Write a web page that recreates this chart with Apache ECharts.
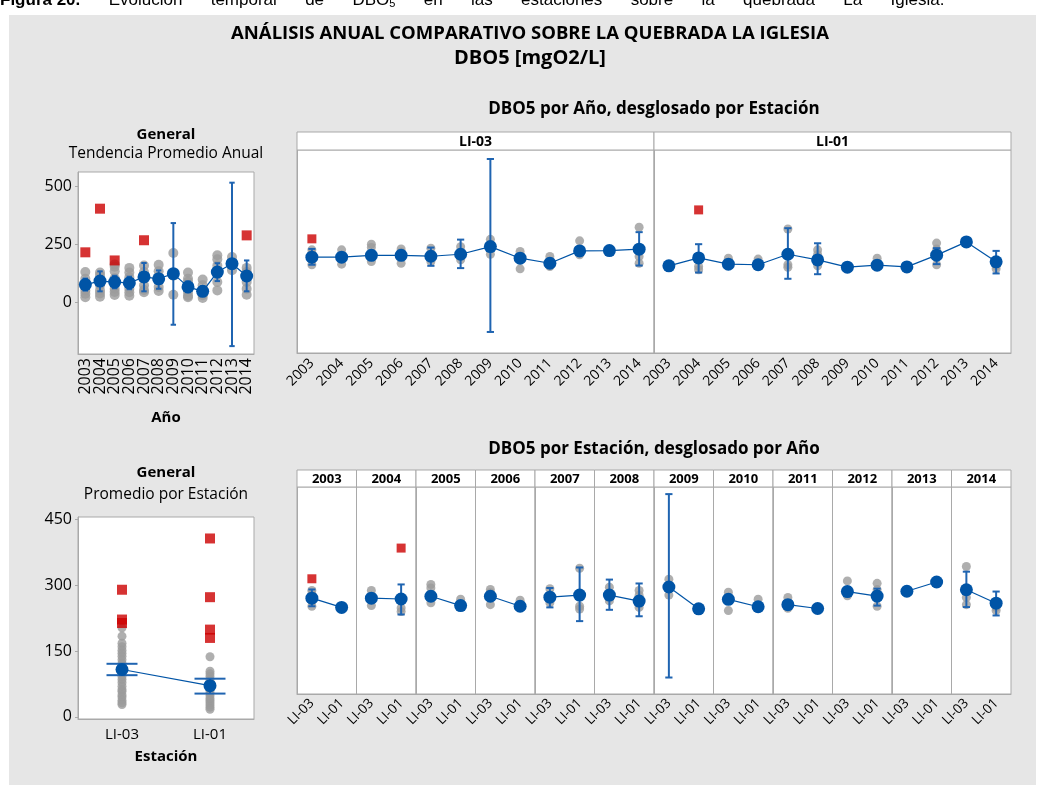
<!DOCTYPE html>
<html>
<head>
<meta charset="utf-8">
<script src="https://cdn.jsdelivr.net/npm/echarts@6/dist/echarts.min.js"></script>
<style>
html, body { margin: 0; padding: 0; background: #fff; }
#container { width: 1044px; height: 785px; }
</style>
</head>
<body>
<div id="container"></div>
<script>
var dom = document.getElementById("container");
var myChart = echarts.init(dom);

var years = ['2003', '2004', '2005', '2006', '2007', '2008', '2009', '2010', '2011', '2012', '2013', '2014'];
var stations = ['LI-03', 'LI-01'];

// General - Tendencia Promedio Anual (por año)
var yearTicks = [0, 250, 500];
var yearMean = [78, 93, 89, 85, 111, 103, 125, 68, 49, 132, 168, 115];
var yearCI = [[52, 104], [49, 135], [62, 116], [58, 112], [49, 171], [60, 139], [-95, 343], [45, 92], [30, 70], [93, 170], [-187, 517], [49, 182]];
var yearPoints = [
    [132, 103, 53, 39, 24],
    [130, 118, 75, 53, 40, 26],
    [165, 155, 135, 105, 60, 46, 33],
    [150, 130, 110, 60, 45, 30],
    [160, 132, 75, 55, 45],
    [163, 135, 68, 50],
    [214, 116, 34],
    [130, 103, 90, 75, 46, 30, 24],
    [100, 75, 55, 32, 20],
    [204, 187, 160, 132, 89, 53],
    [197, 140],
    [150, 132, 89, 60, 34]
];
var yearOutliers = [[0, 217], [1, 405], [2, 182], [4, 269], [11, 290]];

// por Estación y Año
var meanLI03 = [97, 97, 109, 109, 103, 116, 166, 90, 57, 138, 140, 149];
var ciLI03 = [[47, 151], null, null, null, [40, 160], [25, 212], [-394, 741], [65, 115], null, [115, 165], null, [42, 261]];
var pointsLI03 = [[145, 120, 80, 47], [145, 51], [182, 160, 68], [151, 130, 57], [155, 68], [165, 80], [214, 116], [134, 20], [101, 35], [204, 112], [], [293, 101, 57]];
var outliersLI03 = [[0, 217]];

var meanLI01 = [40, 92, 51, 47, 116, 79, 31, 44, 33, 110, 197, 66];
var ciLI01 = [null, [-4, 182], null, null, [-45, 287], [-15, 188], null, null, null, [51, 156], null, [-10, 138]];
var pointsLI01 = [[], [36, 14], [90], [84], [282, 47, 30], [145, 115, 40], [], [90], [], [189, 150, 47], [], [40, 20]];
var outliersLI01 = [[1, 407]];

// General - Promedio por Estación
var stationTicks = [0, 150, 300, 450];
var stationMean = [108, 71];
var stationCI = [[95, 121], [53, 87]];
var stationPoints = [
    [203, 184, 168, 160, 152, 145, 138, 130, 122, 115, 100, 92, 85, 78, 70, 62, 58, 50, 45, 38, 32, 28],
    [137, 104, 98, 92, 85, 78, 70, 62, 55, 48, 42, 37, 32, 27, 22, 17]
];
var stationOutliers = [[0, 290], [0, 222], [0, 214], [1, 407], [1, 273], [1, 199], [1, 180]];

var FONT = 'Open Sans';
var BLUE = '#0054a6';
var BAR = '#1f64b1';
var GRAY = '#9b9b9b';
var RED = '#cc0000';
var FRAME = '#a9a9a9';

var grids = [], xAxes = [], yAxes = [], series = [], graphics = [];

function pairs(lists) {
    var out = [];
    lists.forEach(function (vals, i) {
        vals.forEach(function (v) { out.push([i, v]); });
    });
    return out;
}

function ciRows(ci) {
    var out = [];
    ci.forEach(function (c, i) {
        if (c) out.push([i, c[0], c[1]]);
    });
    return out;
}

function panel(box, cats, range, opts) {
    var gi = grids.length;
    grids.push({
        left: box.x, top: box.y, width: box.w, height: box.h,
        show: true, backgroundColor: '#fff', borderColor: FRAME, borderWidth: 1
    });
    xAxes.push({
        gridIndex: gi, type: 'category', data: cats, boundaryGap: true,
        axisLine: {onZero: false, lineStyle: {color: FRAME}},
        axisTick: {alignWithLabel: true, length: 4, lineStyle: {color: FRAME}},
        axisLabel: Object.assign({interval: 0, color: '#000', fontFamily: FONT}, opts.xLabel),
        splitLine: {show: false},
        name: opts.xName || '', nameLocation: 'middle', nameGap: opts.xNameGap || 0,
        nameTextStyle: {fontFamily: FONT, fontSize: 15, fontWeight: 'bold', color: '#000'}
    });
    yAxes.push({
        gridIndex: gi, type: 'value', min: range[0], max: range[1],
        axisLine: {show: true, onZero: false, lineStyle: {color: FRAME}},
        axisTick: opts.yTicks ? {show: true, customValues: opts.yTicks, length: 3, lineStyle: {color: FRAME}} : {show: false},
        axisLabel: opts.yTicks ? {show: true, customValues: opts.yTicks, fontSize: 16, color: '#000', margin: 6, fontFamily: FONT} : {show: false},
        splitLine: {show: false}
    });
    return gi;
}

function errorSeries(gi, rows, capHalf) {
    return {
        type: 'custom', xAxisIndex: gi, yAxisIndex: gi, z: 3, silent: true,
        data: rows,
        encode: {x: 0, y: [1, 2]},
        renderItem: function (params, api) {
            var x = api.value(0);
            var lo = api.coord([x, api.value(1)]);
            var hi = api.coord([x, api.value(2)]);
            var st = {stroke: BAR, lineWidth: 2};
            return {
                type: 'group',
                children: [
                    {type: 'line', shape: {x1: lo[0], y1: lo[1], x2: hi[0], y2: hi[1]}, style: st},
                    {type: 'line', shape: {x1: lo[0] - capHalf, y1: lo[1], x2: lo[0] + capHalf, y2: lo[1]}, style: st},
                    {type: 'line', shape: {x1: hi[0] - capHalf, y1: hi[1], x2: hi[0] + capHalf, y2: hi[1]}, style: st}
                ]
            };
        }
    };
}

function marks(gi, pts, means, ci, outl, sz) {
    series.push({
        type: 'scatter', xAxisIndex: gi, yAxisIndex: gi, data: pts,
        symbolSize: sz.dot, itemStyle: {color: GRAY}, z: 2, silent: true
    });
    series.push(errorSeries(gi, ci, sz.cap));
    series.push({
        type: 'line', xAxisIndex: gi, yAxisIndex: gi, data: means,
        symbol: 'circle', symbolSize: sz.mean, showSymbol: true, showAllSymbol: true,
        itemStyle: {color: BLUE}, lineStyle: {color: BLUE, width: 1.2}, z: 4, silent: true
    });
    series.push({
        type: 'scatter', xAxisIndex: gi, yAxisIndex: gi, data: outl,
        symbol: 'rect', symbolSize: sz.out, itemStyle: {color: RED}, z: 5, silent: true
    });
}

function header(x, y, w, h, label, size) {
    graphics.push({
        type: 'rect', shape: {x: x, y: y, width: w, height: h},
        style: {fill: '#fff', stroke: FRAME, lineWidth: 1}, z: 10
    });
    graphics.push({
        type: 'text', x: x + w / 2, y: y + h / 2 + 1, z: 11,
        style: {text: label, fontFamily: FONT, fontSize: size, fontWeight: 'bold', fill: '#000', align: 'center', verticalAlign: 'middle'}
    });
}

function label(x, y, text, size, bold) {
    graphics.push({
        type: 'text', x: x, y: y, z: 11,
        style: {text: text, fontFamily: FONT, fontSize: size, fontWeight: bold ? 'bold' : 'normal', fill: '#000', align: 'center', verticalAlign: 'middle'}
    });
}

// panel superior izquierdo: General por año
var g = panel({x: 78, y: 172, w: 176, h: 182}, years, [-221, 563], {
    yTicks: yearTicks,
    xLabel: {rotate: 90, fontSize: 16, margin: 4},
    xName: 'Año', xNameGap: 56
});
marks(g, pairs(yearPoints), yearMean, ciRows(yearCI), yearOutliers, {dot: 10, mean: 13, out: 10, cap: 2.7});

// panel inferior izquierdo: General por estación
g = panel({x: 78, y: 517, w: 176, h: 202}, stations, [-5, 456], {
    yTicks: stationTicks,
    xLabel: {fontSize: 15, margin: 8},
    xName: 'Estación', xNameGap: 30
});
marks(g, pairs(stationPoints), stationMean, ciRows(stationCI), stationOutliers, {dot: 9, mean: 13, out: 10, cap: 15.5});

// por año, desglosado por estación
var topW = 357;
[[meanLI03, ciLI03, pointsLI03, outliersLI03], [meanLI01, ciLI01, pointsLI01, outliersLI01]].forEach(function (s, k) {
    var x = 297 + k * topW;
    var gi = panel({x: x, y: 150, w: topW, h: 203}, years, [-532, 800], {
        xLabel: {rotate: 45, fontSize: 14, margin: 8}
    });
    marks(gi, pairs(s[2]), s[0], ciRows(s[1]), s[3], {dot: 9, mean: 13, out: 9, cap: 3.6});
    header(x, 132, topW, 18, stations[k], 14);
});

// por estación, desglosado por año
var botW = 714 / 12;
years.forEach(function (yr, k) {
    var x = 297 + k * botW;
    var gi = panel({x: x, y: 487, w: botW, h: 207}, stations, [-496, 785], {
        xLabel: {rotate: 45, fontSize: 13.5, margin: 7}
    });
    var pts = [];
    pointsLI03[k].forEach(function (v) { pts.push([0, v]); });
    pointsLI01[k].forEach(function (v) { pts.push([1, v]); });
    var ci = [];
    if (ciLI03[k]) ci.push([0, ciLI03[k][0], ciLI03[k][1]]);
    if (ciLI01[k]) ci.push([1, ciLI01[k][0], ciLI01[k][1]]);
    var outl = [];
    outliersLI03.forEach(function (o) { if (o[0] === k) outl.push([0, o[1]]); });
    outliersLI01.forEach(function (o) { if (o[0] === k) outl.push([1, o[1]]); });
    marks(gi, pts, [meanLI03[k], meanLI01[k]], ci, outl, {dot: 9, mean: 13, out: 9, cap: 3.6});
    header(x, 470, botW, 17, yr, 13);
});

// fondo y textos
graphics.unshift({
    type: 'rect', shape: {x: 9, y: 15, width: 1027, height: 775},
    style: {fill: '#e6e6e6'}, z: -10
});
var sp = '      ';
var captionWords = ['Evolución', 'temporal', 'de', 'DBO{s|5}', 'en', 'las', 'estaciones', 'sobre', 'la', 'quebrada', 'La', 'Iglesia.'];
graphics.push({
    type: 'text', x: 0, y: 9, z: 11,
    style: {
        text: '{b|Figura 20.}' + sp + captionWords.join(sp),
        fontFamily: 'Liberation Sans', fontSize: 17, fill: '#000', verticalAlign: 'bottom',
        rich: {b: {fontWeight: 'bold', fontFamily: 'Liberation Sans', fontSize: 17}, s: {fontSize: 11, verticalAlign: 'bottom'}}
    }
});
label(530, 34, 'ANÁLISIS ANUAL COMPARATIVO SOBRE LA QUEBRADA LA IGLESIA', 18.5, true);
label(530, 58, 'DBO5 [mgO2/L]', 20, true);
label(654, 109, 'DBO5 por Año, desglosado por Estación', 17, true);
label(654, 449, 'DBO5 por Estación, desglosado por Año', 17, true);
label(166, 135, 'General', 15, true);
label(166, 154, 'Tendencia Promedio Anual', 15.5, false);
label(166, 473, 'General', 15, true);
label(166, 495, 'Promedio por Estación', 15.5, false);

var option = {
    animation: false,
    backgroundColor: '#fff',
    textStyle: {fontFamily: FONT},
    grid: grids,
    xAxis: xAxes,
    yAxis: yAxes,
    series: series,
    graphic: {elements: graphics}
};

myChart.setOption(option);
</script>
</body>
</html>
